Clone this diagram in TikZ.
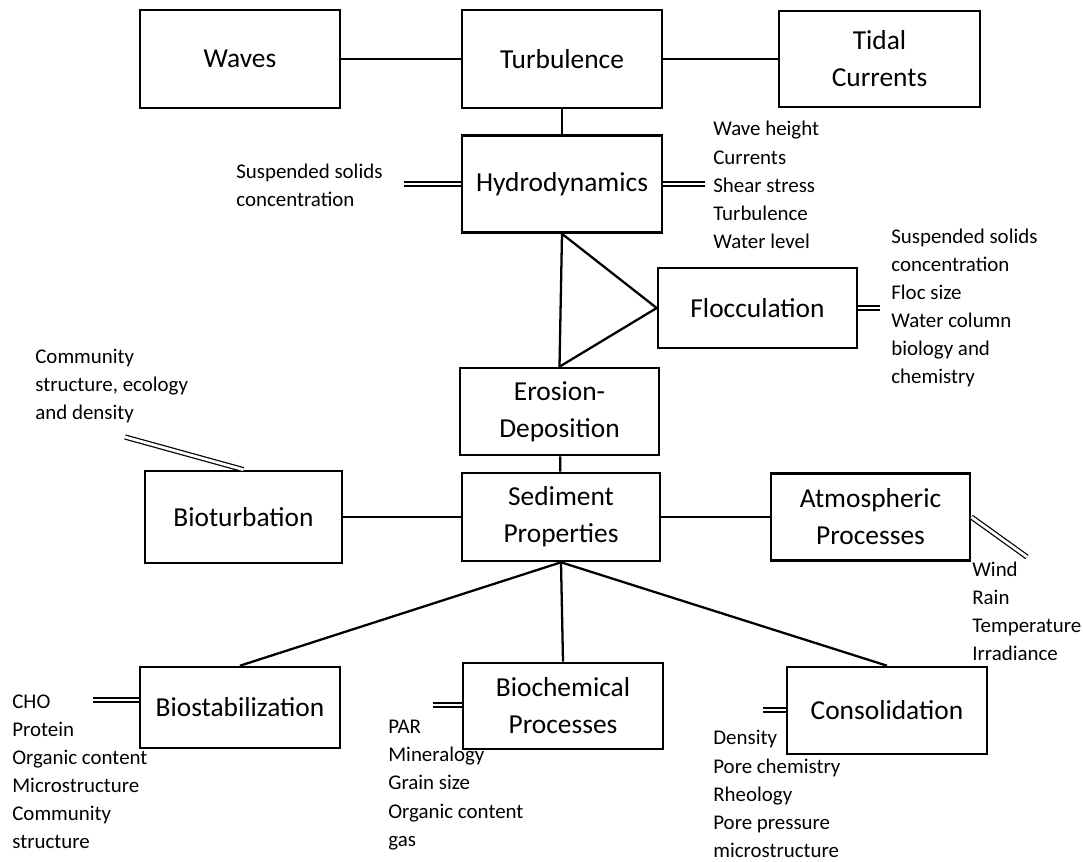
\documentclass[tikz,border=0pt]{standalone}
\usepackage{fontspec}
\setmainfont{Carlito}

\tikzset{
  box/.style={draw, line width=1.5pt, align=center, inner sep=0pt, font=\fontsize{15.6}{21}\selectfont},
  lst/.style={align=left, inner sep=0pt, anchor=west, font=\fontsize{11.9}{16}\selectfont},
  link/.style={line width=1.3pt},
  dbl/.style={double, double distance=1.6pt, line width=0.7pt}
}

\begin{document}
\begin{tikzpicture}[x=0.02cm,y=-0.02cm]
\useasboundingbox (0,0) rectangle (1083,862);
% boxes
\node[box, minimum width=4cm, minimum height=1.96cm] (waves) at (240,59) {Waves};
\node[box, minimum width=4cm, minimum height=1.96cm] (turb) at (562,59) {Turbulence};
\node[box, minimum width=4.02cm, minimum height=1.92cm] (tidal) at (879.5,59) {Tidal\\Currents};
\node[box, minimum width=4cm, minimum height=1.94cm] (hydro) at (562,184) {Hydrodynamics};
\node[box, minimum width=3.98cm, minimum height=1.6cm] (flocc) at (757.5,308) {Flocculation};
\node[box, minimum width=3.98cm, minimum height=1.74cm] (eros) at (559.5,411.5) {Erosion-\\Deposition};
\node[box, minimum width=3.96cm, minimum height=1.76cm] (sed) at (561,517) {Sediment\\Properties};
\node[box, minimum width=3.94cm, minimum height=1.84cm] (biotur) at (243.5,517) {Bioturbation};
\node[box, minimum width=3.98cm, minimum height=1.74cm] (atmos) at (870.5,517) {Atmospheric\\Processes};
\node[box, minimum width=4cm, minimum height=1.62cm] (biostab) at (240,707.5) {Biostabilization};
\node[box, minimum width=4cm, minimum height=1.72cm] (biochem) at (563,706) {Biochemical\\Processes};
\node[box, minimum width=4cm, minimum height=1.74cm] (consol) at (887,710.5) {Consolidation};
% lists
\node[lst] (ssc) at (236,185) {Suspended solids\\concentration};
\node[lst] (hyd) at (713,185) {Wave height\\Currents\\Shear stress\\Turbulence\\Water level};
\node[lst] (flo) at (891,308) {Suspended solids\\concentration\\Floc size\\Water column\\biology and\\chemistry};
\node[lst] (com) at (35,386) {Community\\structure, ecology\\and density};
\node[lst] (atm) at (972,611) {Wind\\Rain\\Temperature\\Irradiance};
\node[lst] (bst) at (12,772) {CHO\\Protein\\Organic content\\Microstructure\\Community\\structure};
\node[lst] (bch) at (388,785) {PAR\\Mineralogy\\Grain size\\Organic content\\gas};
\node[lst] (con) at (713,794) {Density\\Pore chemistry\\Rheology\\Pore pressure\\microstructure};
% free ends of the double lines
\coordinate (d1) at (404,184);
\coordinate (d2) at (705,184);
\coordinate (d3) at (880,308);
\coordinate (d4) at (125,437);
\coordinate (d5) at (1027,557);
\coordinate (d6) at (93,700);
\coordinate (d7) at (433,705);
\coordinate (d8) at (763,710);
% links
\draw[link] (waves) -- (turb);
\draw[link] (turb) -- (tidal);
\draw[link] (turb) -- (hydro);
\draw[link] (hydro.south) -- (eros.north) -- (flocc.west) -- cycle;
\draw[link] (eros) -- (sed);
\draw[link] (biotur) -- (sed);
\draw[link] (sed) -- (atmos);
\draw[link] (sed.south) -- (biostab.north);
\draw[link] (sed.south) -- (biochem.north);
\draw[link] (sed.south) -- (consol.north);
\draw[dbl] (d1) -- (hydro.west);
\draw[dbl] (hydro.east) -- (d2);
\draw[dbl] (flocc.east) -- (d3);
\draw[dbl] (d4) -- (biotur.north);
\draw[dbl] (atmos.east) -- (d5);
\draw[dbl] (d6) -- (d6 -| biostab.west);
\draw[dbl] (d7) -- (d7 -| biochem.west);
\draw[dbl] (d8) -- (d8 -| consol.west);
\end{tikzpicture}
\end{document}
